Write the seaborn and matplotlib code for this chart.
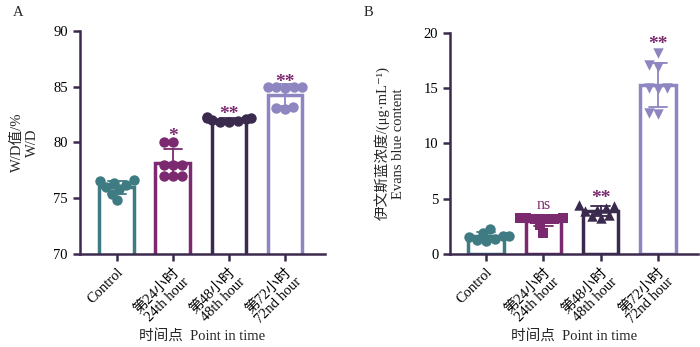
import numpy as np
import pandas as pd
import matplotlib
matplotlib.use("Agg")
import matplotlib.pyplot as plt
import seaborn as sns

sns.set_style("ticks")
latin = ['Liberation Serif', 'Noto Sans CJK SC', 'DejaVu Sans']
plt.rcParams['font.family'] = latin

groups = ["Control", "第24小时\n24th hour", "第48小时\n48th hour", "第72小时\n72nd hour"]
colors = ["#3f7b82", "#7c2a6f", "#3a2a4d", "#8d86c0"]
axis_color = "#3b2a4e"
star_color = "#7c2a6f"

# Panel A: W/D values
wd_control = [76.5, 76.6, 76.4, 76.2, 76.0, 75.8, 75.4, 74.8]
wd_24 = [80.0, 80.0, 78.0, 78.0, 78.0, 77.0, 77.0, 77.0]
wd_48 = [82.2, 82.3, 82.2, 82.0, 81.8, 81.8, 81.9, 82.1]
wd_72 = [85.0, 85.0, 85.0, 84.9, 85.0, 83.2, 83.0, 83.1]
sig_a = ["", "*", "**", "**"]
sig_a_y = [0, 80.5, 82.5, 85.4]

# Panel B: Evans blue content
eb_control = [1.9, 2.3, 1.6, 1.4, 1.3, 1.5, 1.2, 1.6]
eb_24 = [3.3, 3.3, 3.3, 3.2, 3.2, 3.2, 2.6, 1.9]
eb_48 = [4.4, 4.3, 4.2, 4.0, 3.9, 3.5, 3.4, 3.3]
eb_72 = [18.2, 17.1, 16.9, 15.0, 15.0, 14.9, 12.8, 12.7]
sig_b = ["", "ns", "**", "**"]
sig_b_y = [0, 4.4, 5.0, 19.0]
markers_b = ["o", "s", "^", "v"]

def make_df(vals):
    rows = []
    for g, v in zip(groups, vals):
        for x in v:
            rows.append((g, x))
    return pd.DataFrame(rows, columns=["group", "value"])

df_a = make_df([wd_control, wd_24, wd_48, wd_72])
df_b = make_df([eb_control, eb_24, eb_48, eb_72])

fig = plt.figure(figsize=(7, 3.47), dpi=100)
ax_a = fig.add_axes([0.114, 0.268, 0.35, 0.643])
ax_b = fig.add_axes([0.643, 0.268, 0.354, 0.637])

swarm_colls = []

def draw(ax, df, markers, ylim, yticks, sig, sig_y, xlim):
    pal = dict(zip(groups, colors))
    sns.barplot(data=df, x="group", y="value", hue="group", palette=pal, order=groups,
                hue_order=groups, fill=False, linewidth=2.5, width=0.62,
                errorbar="sd", capsize=0.32, err_kws={"linewidth": 1.3},
                legend=False, ax=ax, dodge=False)
    n_before = len(ax.collections)
    for i, g in enumerate(groups):
        sub = df[df["group"] == g]
        sns.swarmplot(data=sub, x="group", y="value", order=groups, color=colors[i],
                      marker=markers[i], size=6.0, ax=ax, zorder=5, warn_thresh=1)
    swarm_colls.extend(ax.collections[n_before:])
    ax.set_ylim(*ylim)
    ax.set_yticks(yticks)
    ax.set_xlim(*xlim)
    for i, (s, y) in enumerate(zip(sig, sig_y)):
        if s:
            ax.text(i, y, s, ha="center", va="center", color=star_color,
                    fontsize=14 if s != "ns" else 11.5,
                    fontweight="bold" if s != "ns" else "normal",
                    family=latin)
    sns.despine(ax=ax)
    for sp in ["left", "bottom"]:
        ax.spines[sp].set_color(axis_color)
        ax.spines[sp].set_linewidth(1.8)
    ax.tick_params(axis="both", colors=axis_color, width=1.8, length=5, labelcolor="black",
                   labelsize=10.5)
    ax.set_xticks(range(len(groups)))
    ax.set_xticklabels(groups, rotation=45, ha="right", rotation_mode="anchor",
                       family=latin, fontsize=10.5, linespacing=1.0)
    for lab in ax.get_yticklabels():
        lab.set_family(latin)
    ax.set_xlabel("时间点  Point in time", family=latin, fontsize=10.5, labelpad=2)

draw(ax_a, df_a, ["o"] * 4, (70, 90), [70, 75, 80, 85, 90], sig_a, sig_a_y, (-0.66, 3.71))
draw(ax_b, df_b, markers_b, (0, 20), [0, 5, 10, 15, 20], sig_b, sig_b_y, (-0.63, 3.7))

ax_a.set_ylabel("W/D值/%\nW/D", family=latin, fontsize=10.5, linespacing=1.25, labelpad=10)
ax_b.set_ylabel("伊文斯蓝浓度/(μg·mL⁻¹)\nEvans blue content", family=latin,
                fontsize=10.5, linespacing=1.25, labelpad=13)

fig.text(0.018, 0.965, "A", family=latin, fontsize=10.5, va="center")
fig.text(0.52, 0.965, "B", family=latin, fontsize=10.5, va="center")

# Compute the swarm layout, then freeze it and enlarge the markers so they overlap
fig.canvas.draw()
for coll in swarm_colls:
    offs = coll.get_offsets().copy()
    if "draw" in coll.__dict__:
        del coll.__dict__["draw"]
    coll.set_offsets(offs)
    coll.set_sizes([7.5 ** 2])

fig.savefig("out.png", dpi=100)
